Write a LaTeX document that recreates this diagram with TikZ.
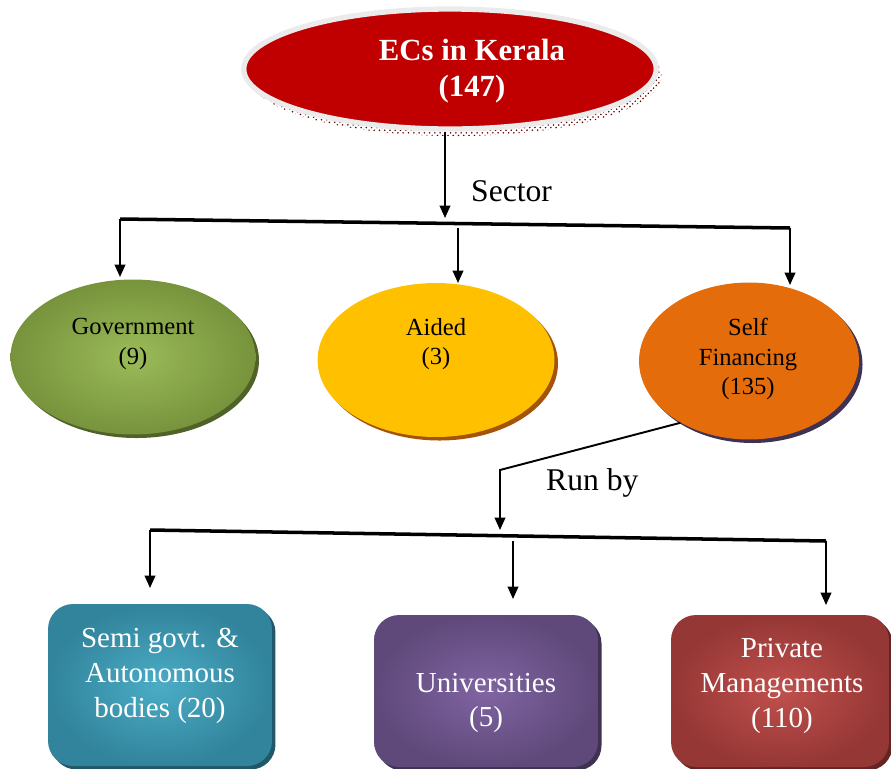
\documentclass[tikz,border=0pt]{standalone}
\usepackage{fontspec}
\setmainfont{Liberation Serif}
\usetikzlibrary {arrows.meta}
\usetikzlibrary {shapes.geometric}
\usetikzlibrary {shadows}
\usetikzlibrary {patterns}

\definecolor{ecred}{RGB}{192,0,0}
\definecolor{govin}{RGB}{155,187,89}
\definecolor{govout}{RGB}{119,147,60}
\definecolor{govsh}{RGB}{79,98,40}
\definecolor{aidfill}{RGB}{255,192,0}
\definecolor{aidsh}{RGB}{163,84,10}
\definecolor{selffill}{RGB}{228,108,10}
\definecolor{selfsh}{RGB}{63,49,81}
\definecolor{semiin}{RGB}{75,172,198}
\definecolor{semiout}{RGB}{49,132,155}
\definecolor{semish}{RGB}{32,88,103}
\definecolor{uniin}{RGB}{128,100,162}
\definecolor{uniout}{RGB}{95,73,122}
\definecolor{unish}{RGB}{63,49,81}
\definecolor{priin}{RGB}{192,80,77}
\definecolor{priout}{RGB}{149,55,53}
\definecolor{prish}{RGB}{99,37,35}

\tikzset{
  arr/.style={-{Triangle[length=7pt,width=6pt]}, line width=1.1pt},
  bus/.style={line width=2pt},
  oval/.style={ellipse, inner sep=0pt},
  tile/.style={rectangle, rounded corners=0.5cm, inner sep=0pt,
    minimum width=4.48cm},
  smalltxt/.style={align=center, font=\fontsize{14}{16.8}\selectfont},
  tiletxt/.style={align=center, text=white, font=\fontsize{16.5}{19.8}\selectfont},
  sh/.style={drop shadow={shadow xshift=2pt, shadow yshift=-2pt, opacity=1, fill=#1}},
}

\begin{document}
\begin{tikzpicture}[x=0.02cm, y=-0.02cm]
        \useasboundingbox (0,0) rectangle (891,768);
        \clip (0,0) rectangle (891,768);
        % 上段
        \node [oval, minimum width=8.25cm, minimum height=2.4cm, fill=ecred,
          draw=black!8, line width=3pt,
          general shadow={shadow xshift=3pt, shadow yshift=-4pt,
            pattern=crosshatch dots, pattern color=ecred!50!black}] (top) at (450,69) {};
        \node [text=white, align=center, font=\fontsize{17.5}{20.5}\selectfont\bfseries] (toptxt) at (472,71) {ECs in Kerala\\(147)};
        \coordinate (b1top) at (445,218);
        \coordinate (b1l) at (120,219);
        \coordinate (b1r) at (790,228);
        \draw [arr] (top.south -| b1top) -- (b1top);
        \node [anchor=west, font=\fontsize{18}{20}\selectfont] (sector) at (465,191) {Sector};
        \draw [bus] (b1l) -- (b1r);
        % 中段
        \node [oval, minimum width=4.9cm, minimum height=3.1cm, inner color=govin, outer color=govout, sh=govsh] (gov) at (133,357) {};
        \node [oval, minimum width=4.74cm, minimum height=3.08cm, fill=aidfill, sh=aidsh] (aided) at (436,360) {};
        \node [oval, minimum width=4.4cm, minimum height=3.14cm, fill=selffill, sh=selfsh] (self) at (749,361) {};
        \node [smalltxt] (govtxt) at (133,344) {Government\\(9)};
        \node [smalltxt] (aidtxt) at (436,344) {Aided\\(3)};
        \node [smalltxt] (selftxt) at (748,359) {Self\\Financing\\(135)};
        \coordinate (d1a) at (458,228);
        \coordinate (e1) at (120,277);
        \coordinate (e2) at (458,283);
        \coordinate (e3) at (790,285);
        \draw [arr] (b1l) -- (e1);
        \draw [arr] (d1a) -- (e2);
        \draw [arr] (b1r) -- (e3);
        % 下段
        \coordinate (bend) at (500,470);
        \coordinate (b2top) at (500,530);
        \coordinate (b2l) at (150,530);
        \coordinate (b2r) at (826,541);
        \draw [arr] (self.222) -- (bend) -- (b2top);
        \node [anchor=west, font=\fontsize{18}{20}\selectfont] (runby) at (540,483) {Run by};
        \draw [bus] (b2l) -- (b2r);
        \node [tile, minimum height=3.24cm, inner color=semiin, outer color=semiout, sh=semish] (semi) at (160,685) {};
        \node [tile, minimum height=3.04cm, inner color=uniin, outer color=uniout, sh=unish] (uni) at (486,691) {};
        \node [tile, minimum width=4.36cm, minimum height=3.04cm, inner color=priin, outer color=priout, sh=prish] (pri) at (780,691) {};
        \node [tiletxt] (semitxt) at (160,676) {Semi govt. \&\\Autonomous\\bodies (20)};
        \node [tiletxt] (unitxt) at (486,703) {Universities\\(5)};
        \node [tiletxt] (pritxt) at (782,686) {Private\\Managements\\(110)};
        \coordinate (d2a) at (513,541);
        \coordinate (f1) at (150,588);
        \coordinate (f2) at (513,599);
        \coordinate (f3) at (826,605);
        \draw [arr] (b2l) -- (f1);
        \draw [arr] (d2a) -- (f2);
        \draw [arr] (b2r) -- (f3);
      \end{tikzpicture}
\end{document}
